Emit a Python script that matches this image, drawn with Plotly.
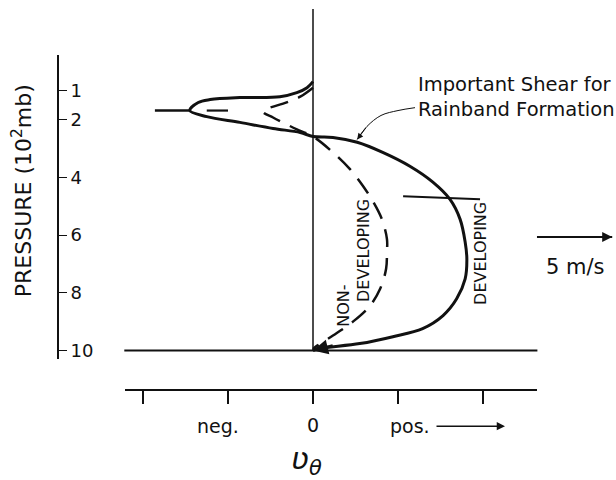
import plotly.graph_objects as go

# ---------------- data (u = tangential wind in tick units, p = pressure in 10^2 mb) -------------
dev_u = [0.0, -0.07, -0.19, -0.39, -0.86, -1.21, -1.35, -1.45, -1.25, -0.86, -0.47, -0.15, 0.0,
         0.235, 0.52, 0.82, 1.14, 1.41, 1.61, 1.73, 1.79, 1.81, 1.79, 1.69, 1.53, 1.29, 0.94, 0.55, 0.08, 0.0]
dev_p = [0.69, 0.90, 1.07, 1.21, 1.24, 1.31, 1.41, 1.69, 1.90, 2.10, 2.31, 2.45, 2.59,
         2.62, 2.79, 3.14, 3.62, 4.17, 4.76, 5.45, 6.24, 6.83, 7.52, 8.21, 8.79, 9.24, 9.52, 9.76, 9.93, 10.0]
dev_lead_u = [-1.86, -1.45]
dev_lead_p = [1.69, 1.69]

nondev_u = [0.0, -0.15, -0.31, -0.59, -0.47, -0.31, -0.19, 0.0, 0.235, 0.435, 0.59, 0.71, 0.81,
            0.87, 0.87, 0.86, 0.79, 0.67, 0.47, 0.235, 0.05, 0.0]
nondev_p = [0.90, 1.21, 1.41, 1.72, 1.93, 2.17, 2.34, 2.59, 3.14, 3.72, 4.31, 4.86, 5.45,
            6.14, 6.59, 7.17, 7.86, 8.45, 9.00, 9.48, 9.83, 9.95]
nondev_lead_u = [-1.25, -1.0]
nondev_lead_p = [1.69, 1.69]

shear_bar_u = [1.06, 1.965]
shear_bar_p = [4.66, 4.76]

zero_line_u = [0.0, 0.0]
zero_line_p = [-1.83, 10.0]
surface_u = [-2.22, 2.64]
surface_p = [10.0, 10.0]

note_arrow_u = [1.20, 1.00, 0.80, 0.635, 0.52]
note_arrow_p = [1.59, 1.69, 1.86, 2.24, 2.69]

scale_arrow_u = [2.635, 3.52]
scale_arrow_p = [6.07, 6.07]

p_ticks = [1, 2, 4, 6, 8, 10]
p_ticktext = ["1", "2", "4", "6", "8", "10"]
u_ticks = [-2, -1, 0, 1, 2]

FONT = "DejaVu Sans"
BLACK = "#111111"

fig = go.Figure()

def line(u, p, width=2.5, dash="solid"):
    fig.add_trace(go.Scatter(x=u, y=p, mode="lines", line=dict(color=BLACK, width=width, dash=dash),
                             line_shape="spline", showlegend=False, hoverinfo="skip"))

def straight(u, p, width=2.0):
    fig.add_trace(go.Scatter(x=u, y=p, mode="lines", line=dict(color=BLACK, width=width),
                             showlegend=False, hoverinfo="skip"))

straight(zero_line_u, zero_line_p, 1.5)
straight(surface_u, surface_p, 2.0)
line(dev_u, dev_p, 3.0)
straight(dev_lead_u, dev_lead_p, 2.5)
line(nondev_u, nondev_p, 2.5, "18px,11px")
straight(nondev_lead_u, nondev_lead_p, 2.2)
straight(shear_bar_u, shear_bar_p, 2.0)
line(note_arrow_u, note_arrow_p, 1.0)
straight(scale_arrow_u, scale_arrow_p, 2.0)

# dummy traces so the display axes are drawn
fig.add_trace(go.Scatter(x=[0], y=[5], xaxis="x2", yaxis="y", mode="markers",
                         marker=dict(opacity=0), showlegend=False, hoverinfo="skip"))
fig.add_trace(go.Scatter(x=[0], y=[5], xaxis="x", yaxis="y2", mode="markers",
                         marker=dict(opacity=0), showlegend=False, hoverinfo="skip"))

W, H = 616, 480
# pixel mapping helpers for axis layout
U0_PX, U_PX = 313, 85.0
P2_PX, P_PX = 120, 29.0
def u_of(px): return (px - U0_PX) / U_PX
def p_of(py): return 2 + (py - P2_PX) / P_PX

ann = []
def text(u, p, s, size=16, angle=0, xanchor="center", align="center"):
    ann.append(dict(x=u, y=p, xref="x", yref="y", text=s, showarrow=False, textangle=angle,
                    xanchor=xanchor, yanchor="middle", align=align,
                    font=dict(family=FONT, size=size, color=BLACK)))

def arrow(u0, p0, u1, p1, head=2, size=1.0, width=2.0):
    ann.append(dict(x=u1, y=p1, ax=u0, ay=p0, xref="x", yref="y", axref="x", ayref="y",
                    text="", showarrow=True, arrowhead=head, arrowsize=size, arrowwidth=width,
                    arrowcolor=BLACK, standoff=0, startstandoff=0))

text(u_of(416), p_of(97.5), "Important Shear for<br>Rainband Formation", 19.5, xanchor="left", align="left")
arrow(note_arrow_u[-2], note_arrow_p[-2], note_arrow_u[-1], note_arrow_p[-1], head=2, size=1.2, width=1.0)
arrow(scale_arrow_u[0], scale_arrow_p[0], scale_arrow_u[1], scale_arrow_p[1], head=2, size=1.0, width=2.0)
text(u_of(575), p_of(268), "5 m/s", 21)
text(u_of(481), p_of(255), "DEVELOPING", 16, angle=-90)
text(u_of(364), p_of(252), "DEVELOPING", 16, angle=-90)
text(u_of(344), p_of(307), "NON-", 16, angle=-90)
arrow(0.25, 9.82, 0.0, 10.0, head=2, size=1.0, width=3.0)
text(u_of(218), p_of(428), "neg.", 19)
text(u_of(313), p_of(427), "0", 19)
text(u_of(410), p_of(428), "pos.", 19)
arrow(u_of(435), p_of(428), u_of(505), p_of(428), head=2, size=1.1, width=1.5)
ann.append(dict(x=306 / W, y=1 - 462 / H, xref="paper", yref="paper", xanchor="center", yanchor="middle",
                text="<i>ʋ</i><sub><i>θ</i></sub>", showarrow=False,
                font=dict(family=FONT, size=30, color=BLACK)))
ann.append(dict(x=22 / W, y=1 - 192 / H, xref="paper", yref="paper", textangle=-90,
                xanchor="center", yanchor="middle",
                text="PRESSURE (10<sup>2</sup>mb)", showarrow=False,
                font=dict(family=FONT, size=22, color=BLACK)))

fig.update_layout(
    width=W, height=H, margin=dict(l=0, r=0, t=0, b=0),
    paper_bgcolor="white", plot_bgcolor="rgba(0,0,0,0)",
    showlegend=False,
    xaxis=dict(domain=[0, 1], range=[u_of(0), u_of(W)], visible=False, fixedrange=True),
    yaxis=dict(domain=[0, 1], range=[p_of(H), p_of(0)], visible=False, fixedrange=True),
    xaxis2=dict(domain=[125 / W, 537 / W], range=[u_of(125), u_of(537)], anchor="free",
                position=1 - 392 / H, showline=True, linecolor=BLACK, linewidth=2,
                ticks="outside", ticklen=13, tickwidth=1.5, tickcolor=BLACK,
                tickvals=u_ticks, ticktext=["" for _ in u_ticks], showgrid=False, zeroline=False,
                fixedrange=True),
    yaxis2=dict(domain=[1 - 360 / H, 1 - 55 / H], range=[p_of(360), p_of(55)], anchor="free",
                position=58 / W, side="right", showline=True, linecolor=BLACK, linewidth=2,
                ticks="outside", ticklen=8, tickwidth=1.2, tickcolor=BLACK,
                tickvals=p_ticks, ticktext=p_ticktext, showgrid=False, zeroline=False,
                tickfont=dict(family=FONT, size=18, color=BLACK), fixedrange=True),
    annotations=ann,
)

fig.write_html("out.html", config={"displayModeBar": False},
               post_script="document.body.style.margin='0';document.body.style.overflow='hidden';")
